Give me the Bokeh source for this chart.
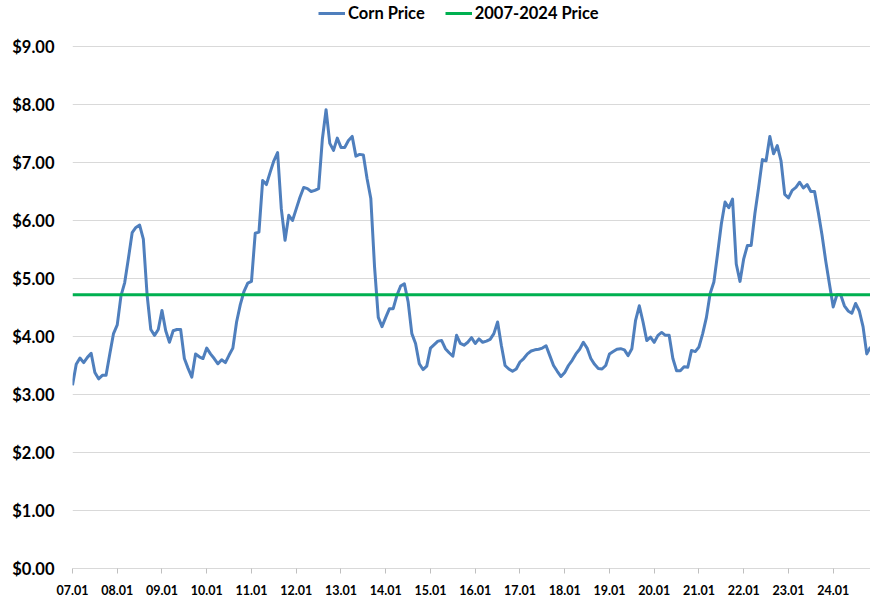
from bokeh.plotting import figure
from bokeh.models import Range1d, FixedTicker, Legend, LegendItem, ColumnDataSource
from bokeh.embed import file_html
from bokeh.resources import INLINE

# Monthly corn price, Jan 2007 onward ($/bu)
corn_price = [
    3.16, 3.52, 3.63, 3.55, 3.64, 3.71, 3.38, 3.27, 3.33, 3.33, 3.70, 4.05,   # 2007
    4.20, 4.70, 4.93, 5.35, 5.79, 5.88, 5.92, 5.68, 4.72, 4.12, 4.02, 4.12,   # 2008
    4.45, 4.10, 3.90, 4.10, 4.12, 4.12, 3.62, 3.45, 3.30, 3.70, 3.65, 3.62,   # 2009
    3.80, 3.70, 3.62, 3.53, 3.60, 3.55, 3.68, 3.80, 4.25, 4.55, 4.78, 4.92,   # 2010
    4.95, 5.78, 5.80, 6.69, 6.62, 6.83, 7.03, 7.17, 6.20, 5.66, 6.09, 6.00,   # 2011
    6.20, 6.40, 6.57, 6.55, 6.50, 6.52, 6.55, 7.40, 7.91, 7.33, 7.21, 7.42,   # 2012
    7.26, 7.26, 7.38, 7.45, 7.11, 7.14, 7.13, 6.72, 6.38, 5.20, 4.33, 4.17,   # 2013
    4.33, 4.48, 4.48, 4.71, 4.87, 4.91, 4.60, 4.05, 3.88, 3.53, 3.43, 3.49,   # 2014
    3.80, 3.86, 3.92, 3.93, 3.79, 3.72, 3.66, 4.02, 3.88, 3.85, 3.90, 3.98,   # 2015
    3.88, 3.96, 3.90, 3.92, 3.95, 4.05, 4.25, 3.85, 3.50, 3.44, 3.40, 3.44,   # 2016
    3.56, 3.62, 3.70, 3.75, 3.77, 3.78, 3.80, 3.84, 3.67, 3.50, 3.40, 3.31,   # 2017
    3.38, 3.50, 3.59, 3.70, 3.78, 3.90, 3.80, 3.62, 3.52, 3.45, 3.44, 3.50,   # 2018
    3.70, 3.74, 3.78, 3.79, 3.77, 3.67, 3.79, 4.28, 4.53, 4.25, 3.93, 3.99,   # 2019
    3.90, 4.02, 4.07, 4.02, 4.02, 3.62, 3.41, 3.41, 3.48, 3.47, 3.76, 3.74,   # 2020
    3.82, 4.05, 4.33, 4.74, 4.94, 5.43, 5.94, 6.32, 6.22, 6.37, 5.25, 4.95,   # 2021
    5.34, 5.57, 5.57, 6.12, 6.57, 7.05, 7.03, 7.45, 7.15, 7.29, 7.03, 6.45,   # 2022
    6.39, 6.52, 6.57, 6.66, 6.56, 6.62, 6.50, 6.50, 6.14, 5.75, 5.30, 4.90,   # 2023
    4.51, 4.72, 4.72, 4.53, 4.44, 4.40, 4.57, 4.44, 4.17, 3.70, 3.82,         # 2024
]
average_price = 4.72   # 2007-2024 price

tick_months = [0, 12, 24, 36, 48, 60, 72, 84, 96, 108, 120, 132, 144, 156, 168, 180, 192, 204]
tick_labels = ["07.01", "08.01", "09.01", "10.01", "11.01", "12.01", "13.01", "14.01", "15.01",
               "16.01", "17.01", "18.01", "19.01", "20.01", "21.01", "22.01", "23.01", "24.01"]
y_ticks = [0, 1, 2, 3, 4, 5, 6, 7, 8, 9]
y_labels = ["$0.00", "$1.00", "$2.00", "$3.00", "$4.00", "$5.00", "$6.00", "$7.00", "$8.00", "$9.00"]

months = list(range(len(corn_price)))
last = months[-1]

FONT = "Lato"
BLUE = "#4f7fbd"
GREEN = "#00b050"

W, H = 870, 598
frame_top_pad = 46      # space above $9.00 gridline for legend
bottom_border = 30
frame_h = H - bottom_border
y_top = 9 * frame_h / (frame_h - frame_top_pad)

p = figure(width=W, height=H, output_backend="svg", toolbar_location=None,
           x_range=Range1d(0, last), y_range=Range1d(0, y_top),
           min_border_left=72, min_border_right=0, min_border_top=0,
           min_border_bottom=bottom_border)
p.outline_line_color = None
p.background_fill_color = "white"
p.border_fill_color = "white"

src = ColumnDataSource(dict(month=months, price=corn_price))
r_corn = p.line("month", "price", source=src, line_color=BLUE, line_width=3,
                line_join="round")
r_avg = p.line([0, last], [average_price, average_price], line_color=GREEN, line_width=3)

# Y axis
p.yaxis.ticker = FixedTicker(ticks=y_ticks)
p.yaxis.major_label_overrides = {t: l for t, l in zip(y_ticks, y_labels)}
p.yaxis.axis_line_color = None
p.yaxis.major_tick_line_color = None
p.yaxis.minor_tick_line_color = None
p.yaxis.major_label_standoff = 12
p.yaxis.major_label_text_font = FONT
p.yaxis.major_label_text_font_style = "bold"
p.yaxis.major_label_text_font_size = "16.5px"
p.yaxis.major_label_text_color = "#000000"

# X axis
p.xaxis.ticker = FixedTicker(ticks=tick_months)
p.xaxis.major_label_overrides = {t: l for t, l in zip(tick_months, tick_labels)}
p.xaxis.axis_line_color = "#d9d9d9"
p.xaxis.major_tick_line_color = "#bfbfbf"
p.xaxis.major_tick_in = 0
p.xaxis.major_tick_out = 5
p.xaxis.minor_tick_line_color = None
p.xaxis.major_label_standoff = 11
p.xaxis.major_label_text_font = FONT
p.xaxis.major_label_text_font_style = "bold"
p.xaxis.major_label_text_font_size = "12.5px"
p.xaxis.major_label_text_color = "#000000"
p.xaxis.major_label_text_align = "left"

# Grid
p.xgrid.grid_line_color = None
p.ygrid.ticker = FixedTicker(ticks=y_ticks[1:])
p.ygrid.grid_line_color = "#d9d9d9"
p.ygrid.grid_line_width = 1

legend = Legend(items=[LegendItem(label="Corn Price", renderers=[r_corn]),
                       LegendItem(label="2007-2024 Price", renderers=[r_avg])],
                orientation="horizontal", location=(246, frame_h - 23),
                margin=0, padding=0, spacing=20,
                glyph_width=27, glyph_height=14, label_height=14,
                label_standoff=3,
                label_text_font=FONT, label_text_font_style="bold",
                label_text_font_size="16.5px", label_text_color="#000000",
                background_fill_alpha=0, border_line_color=None)
p.add_layout(legend, "center")

open("out.html", "w").write(file_html(p, INLINE))
